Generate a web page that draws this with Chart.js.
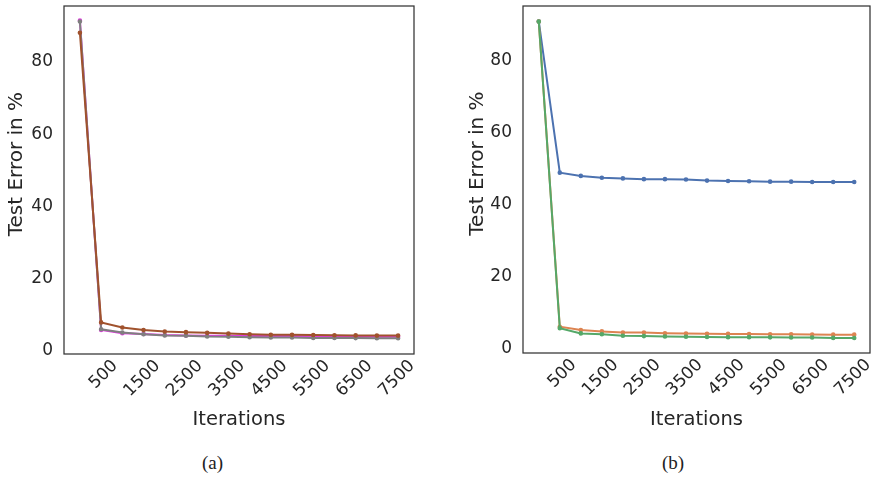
<!DOCTYPE html>
<html>
<head>
<meta charset="utf-8">
<script src="https://cdn.jsdelivr.net/npm/chart.js@4/dist/chart.umd.min.js"></script>
<style>
    body { margin: 0; background: #fff; width: 875px; height: 479px; position: relative; overflow: hidden; }
    .painel { position: absolute; top: 0; width: 430px; height: 440px; }
    .legenda { position: absolute; top: 452px; font-family: 'Liberation Serif', 'DejaVu Serif', serif; font-size: 19px; color: #222; }
</style>
</head>
<body>
<div class="painel" style="left:0"><canvas id="graficoA" width="430" height="440"></canvas></div>
<div class="painel" style="left:445px"><canvas id="graficoB" width="430" height="440"></canvas></div>
<div class="legenda" style="left:202px">(a)</div>
<div class="legenda" style="left:662px">(b)</div>
<script>
const iteracoes = [0, 500, 1000, 1500, 2000, 2500, 3000, 3500, 4000, 4500, 5000, 5500, 6000, 6500, 7000, 7500];
const ticksX = [500, 1500, 2500, 3500, 4500, 5500, 6500, 7500];
const ticksY = [0, 20, 40, 60, 80];

// (a)
const erroMagenta = [91.5, 5.8, 4.9, 4.7, 4.4, 4.3, 4.2, 4.2, 4.15, 4.1, 4.1, 4.0, 4.0, 3.95, 3.9, 3.9];
const erroCinza = [91.2, 6.0, 5.1, 4.6, 4.3, 4.2, 4.0, 3.95, 3.8, 3.7, 3.7, 3.6, 3.6, 3.55, 3.5, 3.5];
const erroMarrom = [88.1, 7.9, 6.5, 5.8, 5.4, 5.2, 5.0, 4.8, 4.6, 4.5, 4.45, 4.4, 4.35, 4.3, 4.25, 4.25];

// (b)
const erroAzul = [91.0, 49.0, 48.1, 47.6, 47.4, 47.2, 47.2, 47.1, 46.8, 46.7, 46.6, 46.5, 46.5, 46.4, 46.4, 46.4];
const erroLaranja = [91.0, 6.2, 5.3, 4.9, 4.6, 4.6, 4.4, 4.3, 4.25, 4.2, 4.15, 4.1, 4.1, 4.05, 4.0, 4.0];
const erroVerde = [91.0, 5.8, 4.35, 4.1, 3.7, 3.6, 3.5, 3.4, 3.35, 3.3, 3.3, 3.25, 3.2, 3.2, 3.1, 3.05];

const corTexto = '#262626';
const fonte = "'DejaVu Sans'";

// caixa em volta da area do grafico
const moldura = {
    id: 'moldura',
    beforeDatasetsDraw(chart) {
        const { ctx, chartArea } = chart;
        ctx.save();
        ctx.strokeStyle = '#333';
        ctx.lineWidth = 1.25;
        ctx.strokeRect(chartArea.left, chartArea.top, chartArea.right - chartArea.left, chartArea.bottom - chartArea.top);
        ctx.restore();
    }
};

function serie(valores, cor) {
    return {
        data: iteracoes.map((x, i) => ({ x: x, y: valores[i] })),
        borderColor: cor,
        backgroundColor: cor,
        borderWidth: 2,
        pointRadius: 1.3,
        pointHoverRadius: 1.3,
        tension: 0
    };
}

function plotarGrafico(id, datasets, yMin, yMax, opcoes) {

    const config = {
        type: 'line',
        data: { datasets: datasets },
        options: {
            responsive: false,
            animation: false,
            layout: { padding: { top: 6, right: opcoes.direita, left: 0, bottom: 0 } },
            plugins: { legend: { display: false }, tooltip: { enabled: false } },
            scales: {
                x: {
                    type: 'linear',
                    min: -375,
                    max: 7875,
                    grid: { display: false, drawTicks: false },
                    border: { display: false },
                    afterBuildTicks: (s) => { s.ticks = ticksX.map(v => ({ value: v })); },
                    afterFit: (s) => { s.height = opcoes.alturaX; s.paddingLeft = 0; s.paddingRight = 0; },
                    ticks: {
                        autoSkip: false,
                        minRotation: 45,
                        maxRotation: 45,
                        padding: 2,
                        labelOffset: 14,
                        color: corTexto,
                        font: { family: fonte, size: 17 },
                        callback: (v) => String(v)
                    },
                    title: {
                        display: true,
                        text: 'Iterations',
                        color: corTexto,
                        padding: { top: 0, bottom: 8 },
                        font: { family: fonte, size: 19.5 }
                    }
                },
                y: {
                    min: yMin,
                    max: yMax,
                    grid: { display: false, drawTicks: false },
                    border: { display: false },
                    afterBuildTicks: (s) => { s.ticks = ticksY.map(v => ({ value: v })); },
                    afterFit: (s) => { s.width = opcoes.larguraY; s.paddingTop = 0; s.paddingBottom = 0; },
                    ticks: {
                        padding: 11,
                        color: corTexto,
                        font: { family: fonte, size: 17 }
                    },
                    title: {
                        display: true,
                        // espacos no inicio empurram o texto um pouco para cima
                        text: '     Test Error in %',
                        color: corTexto,
                        padding: { top: opcoes.tituloY, bottom: 0 },
                        font: { family: fonte, size: 20 }
                    }
                }
            }
        },
        plugins: [moldura]
    };

    let myChart = new Chart(document.getElementById(id), config);
}

plotarGrafico('graficoA', [
    serie(erroMarrom, '#a0522d'),
    serie(erroCinza, '#7f7f7f'),
    serie(erroMagenta, '#e23ce2')
], -0.85, 95.5, { larguraY: 64, alturaX: 86, direita: 16, tituloY: 5 });

plotarGrafico('graficoB', [
    serie(erroVerde, '#55a868'),
    serie(erroLaranja, '#dd8452'),
    serie(erroAzul, '#4c72b0')
], -1.1, 95.3, { larguraY: 78, alturaX: 87, direita: 5, tituloY: 21 });
</script>
</body>
</html>
